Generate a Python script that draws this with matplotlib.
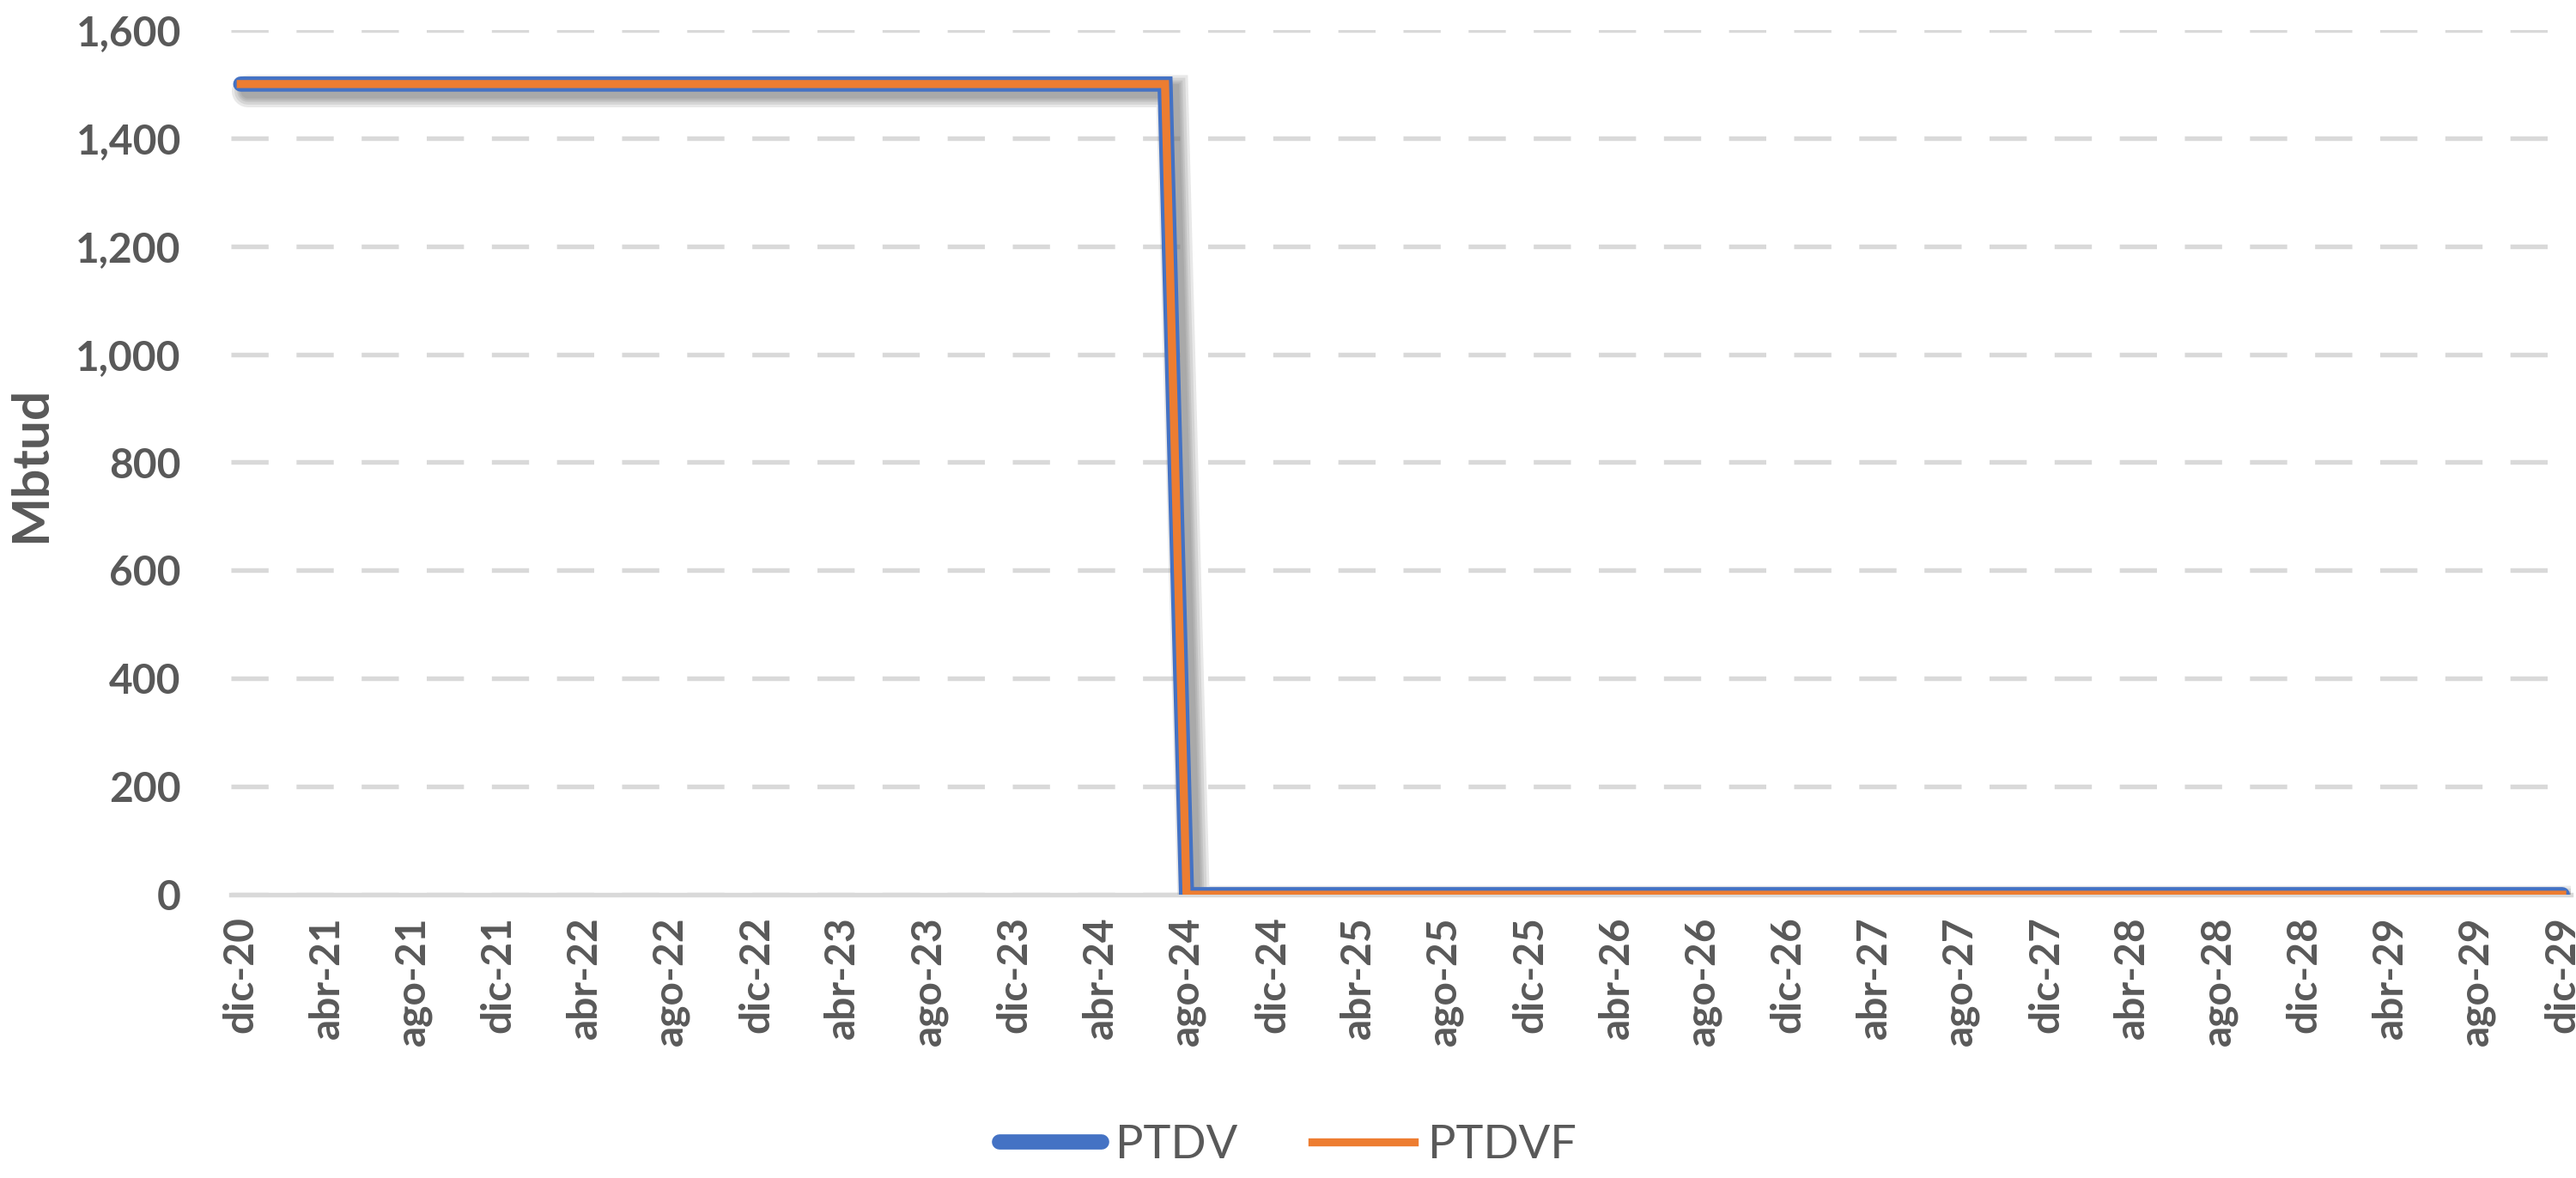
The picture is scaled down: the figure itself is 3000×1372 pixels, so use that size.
import matplotlib
matplotlib.use('Agg')
import matplotlib.pyplot as plt
import matplotlib.patheffects as pe
from matplotlib.lines import Line2D
import numpy as np

plt.rcParams['font.family'] = ['Lato', 'DejaVu Sans']

# datos mensuales dic-20 .. dic-29
meses = ['ene', 'feb', 'mar', 'abr', 'may', 'jun', 'jul', 'ago', 'sep', 'oct', 'nov', 'dic']
etiquetas = []
for k in range(109):
    m = (11 + k) % 12
    a = 20 + (11 + k) // 12
    etiquetas.append(f'{meses[m]}-{a}')

# 1,500 Mbtud hasta jul-24, luego 0
ptdv = [1500] * 44 + [0] * 65
ptdvf = [1500] * 44 + [0] * 65

gris = '#595959'
azul = '#4472C4'
naranja = '#ED7D31'

fig = plt.figure(figsize=(20, 9.147), dpi=150)
ax = fig.add_axes([0.0897, 0.2405, 0.9083, 0.734])

x = np.arange(len(ptdv))
sombra = [pe.SimpleLineShadow(offset=(4, -4), shadow_color='#707070', alpha=0.16, linewidth=lw)
          for lw in (18, 15, 12, 10, 8)]
ax.plot(x, ptdv, color=azul, lw=8.5, solid_capstyle='round', solid_joinstyle='miter',
        path_effects=sombra + [pe.Normal()], zorder=3)
ax.plot(x, ptdvf, color=naranja, lw=4.5, solid_joinstyle='miter', zorder=4)

ax.set_ylim(0, 1600)
ax.set_yticks(np.arange(0, 1601, 200))
ax.set_yticklabels([f'{v:,}' for v in range(0, 1601, 200)])
ax.set_xlim(-0.45, 108.4)
ax.set_xticks(x[::4])
ax.set_xticklabels(etiquetas[::4], rotation=90)

ax.grid(axis='y', color='#D9D9D9', linestyle=(0, (8, 6)), linewidth=2.6)
ax.set_axisbelow(True)
for s in ['top', 'right', 'left']:
    ax.spines[s].set_visible(False)
ax.spines['bottom'].set_color('#D9D9D9')
ax.spines['bottom'].set_linewidth(2.6)
ax.tick_params(axis='both', length=0, colors=gris, labelsize=23, pad=12)
for t in ax.get_xticklabels() + ax.get_yticklabels():
    t.set_fontweight('bold')
ax.tick_params(axis='y', pad=28)

fig.text(0.003, 0.606, 'Mbtud', rotation=90, ha='left', va='center',
         fontsize=29, fontweight='bold', color=gris)

handles = [Line2D([], [], color=azul, lw=8.5, solid_capstyle='round'),
           Line2D([], [], color=naranja, lw=4.5)]
leg = fig.legend(handles, ['PTDV', 'PTDVF'], loc='lower center', bbox_to_anchor=(0.5, -0.025),
                 ncol=2, frameon=False, fontsize=26, handlelength=2.2, columnspacing=1.6,
                 handletextpad=0.3)
for t in leg.get_texts():
    t.set_color(gris)

fig.savefig('out.png', dpi=150, facecolor='white')
